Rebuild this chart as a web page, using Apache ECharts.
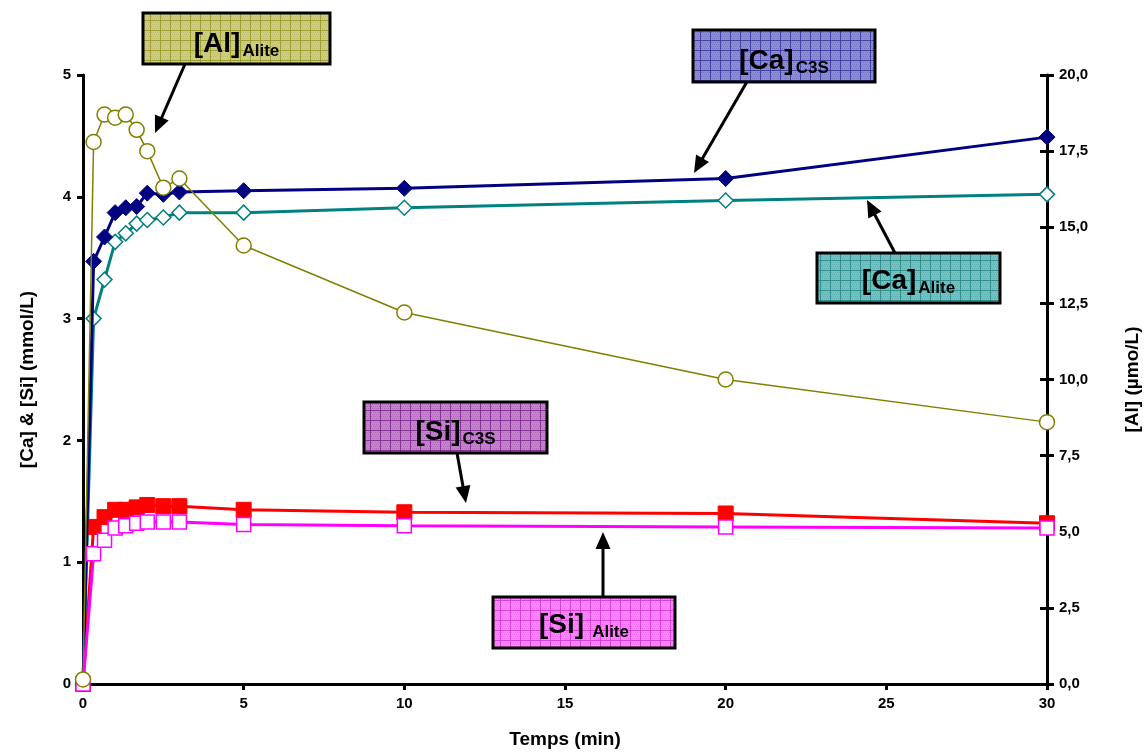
<!DOCTYPE html>
<html>
<head>
<meta charset="utf-8">
<script src="https://cdn.jsdelivr.net/npm/echarts@6/dist/echarts.min.js"></script>
<style>
html,body{margin:0;padding:0;background:#fff;}
#chart{width:1147px;height:753px;}
</style>
</head>
<body>
<div id="chart"></div>
<script>
// ---- data ----
const time = [0, 0.33, 0.67, 1, 1.33, 1.67, 2, 2.5, 3, 5, 10, 20, 30];
const caC3S = [0, 3.47, 3.67, 3.87, 3.91, 3.92, 4.03, 4.02, 4.04, 4.05, 4.07, 4.15, 4.49];
const caAlite = [0, 3.00, 3.32, 3.63, 3.70, 3.78, 3.81, 3.83, 3.87, 3.87, 3.91, 3.97, 4.02];
const alAlite = [0.15, 17.8, 18.7, 18.6, 18.7, 18.2, 17.5, 16.3, 16.6, 14.4, 12.2, 10.0, 8.6];
const siC3S = [0, 1.29, 1.37, 1.43, 1.43, 1.45, 1.47, 1.46, 1.46, 1.43, 1.41, 1.40, 1.32];
const siAlite = [0, 1.07, 1.18, 1.28, 1.30, 1.32, 1.33, 1.33, 1.33, 1.31, 1.30, 1.29, 1.28];

const xTitle = 'Temps (min)';
const yLeftTitle = '[Ca] & [Si] (mmol/L)';
const yRightTitle = '[Al] (µmo/L)';

// ---- annotation labels ----
const labelMain = ['[Al]', '[Ca]', '[Ca]', '[Si]', '[Si]'];
const labelSub = ['Alite', 'C3S', 'Alite', 'C3S', 'Alite'];

// ---- layout (pixels) ----
const boxLayout = [
  {x: 143, y: 13, w: 187, h: 51, base: '#cdcd86', grid: '#9a9a2a', my: 44, gap: 2},
  {x: 693, y: 30, w: 182, h: 52, base: '#8e8ed6', grid: '#3a3a9a', my: 61, gap: 2},
  {x: 817, y: 253, w: 183, h: 50, base: '#73c3c3', grid: '#2e8a8a', my: 281, gap: 2},
  {x: 364, y: 402, w: 183, h: 51, base: '#c584cc', grid: '#7e2c8e', my: 432, gap: 2},
  {x: 493, y: 597, w: 182, h: 51, base: '#ff85ff', grid: '#d23cd2', my: 625, gap: 8}
];
const arrowLayout = [
  [185, 64, 155, 133],
  [748, 80, 694, 173],
  [895, 253, 867, 200],
  [457, 453, 466, 503],
  [603, 597, 603, 532]
];
const MAIN_SIZE = 28, SUB_SIZE = 17, SUB_DROP = 7;

function makePattern(base, grid) {
  const c = document.createElement('canvas');
  c.width = 10; c.height = 10;
  const g = c.getContext('2d');
  g.fillStyle = base; g.fillRect(0, 0, 10, 10);
  g.fillStyle = grid;
  g.globalAlpha = 0.28;
  for (let y = 0; y < 10; y += 2) for (let x = (y / 2) % 2; x < 10; x += 2) g.fillRect(x, y, 1, 1);
  g.globalAlpha = 0.9;
  g.fillRect(0, 0, 10, 1); g.fillRect(0, 0, 1, 10);
  return c;
}

const FONT = '"Liberation Sans", Arial, sans-serif';
const measureCtx = document.createElement('canvas').getContext('2d');
function textWidth(t, size) {
  measureCtx.font = 'bold ' + size + 'px ' + FONT;
  return measureCtx.measureText(t).width;
}

const graphics = [];
labelMain.forEach((main, i) => {
  const b = boxLayout[i];
  const sub = labelSub[i];
  const wm = textWidth(main, MAIN_SIZE), ws = textWidth(sub, SUB_SIZE);
  const total = wm + b.gap + ws;
  const sx = b.x + b.w / 2 - total / 2;
  graphics.push({
    type: 'rect', z: 100,
    shape: {x: b.x, y: b.y, width: b.w, height: b.h},
    style: {fill: {image: makePattern(b.base, b.grid), repeat: 'repeat'}, stroke: '#000', lineWidth: 3}
  });
  graphics.push({
    type: 'text', z: 101, x: sx, y: b.my,
    style: {text: main, fill: '#000', fontSize: MAIN_SIZE, fontWeight: 'bold', fontFamily: FONT,
      align: 'left', verticalAlign: 'middle', textAlign: 'left', textVerticalAlign: 'middle'}
  });
  graphics.push({
    type: 'text', z: 101, x: sx + wm + b.gap, y: b.my + SUB_DROP,
    style: {text: sub, fill: '#000', fontSize: SUB_SIZE, fontWeight: 'bold', fontFamily: FONT,
      align: 'left', verticalAlign: 'middle', textAlign: 'left', textVerticalAlign: 'middle'}
  });
});
arrowLayout.forEach(a => {
  const [x1, y1, x2, y2] = a;
  const dx = x2 - x1, dy = y2 - y1, L = Math.hypot(dx, dy);
  const ux = dx / L, uy = dy / L, px = -uy, py = ux;
  const hl = 17, hw = 7.5;
  const bx = x2 - ux * hl, by = y2 - uy * hl;
  graphics.push({
    type: 'line', z: 99,
    shape: {x1: x1, y1: y1, x2: bx + ux * 2, y2: by + uy * 2},
    style: {stroke: '#000', lineWidth: 3}
  });
  graphics.push({
    type: 'polygon', z: 99,
    shape: {points: [[x2, y2], [bx + px * hw, by + py * hw], [bx - px * hw, by - py * hw]]},
    style: {fill: '#000'}
  });
});

function pairs(ys) { return time.map((t, i) => [t, ys[i]]); }

const axisLabelStyle = {color: '#000', fontSize: 15, fontWeight: 'bold', fontFamily: FONT};
const nameStyle = {color: '#000', fontSize: 19, fontWeight: 'bold', fontFamily: FONT};
const gridBox = {left: 83, right: 100, top: 75, bottom: 69, containLabel: false, outerBoundsMode: 'none'};

const chart = echarts.init(document.getElementById('chart'), null, {renderer: 'canvas'});
chart.setOption({
  backgroundColor: '#fff',
  animation: false,
  grid: [Object.assign({}, gridBox), Object.assign({}, gridBox)],
  xAxis: [
    {
      type: 'value', min: 0, max: 30, interval: 5, gridIndex: 0,
      name: xTitle, nameLocation: 'middle', nameGap: 46, nameTextStyle: nameStyle,
      axisLine: {show: true, onZero: false, lineStyle: {color: '#000', width: 3}},
      axisTick: {show: true, length: 6, lineStyle: {color: '#000', width: 3}},
      axisLabel: Object.assign({margin: 12}, axisLabelStyle),
      splitLine: {show: false}
    },
    {
      type: 'value', min: 0, max: 30, interval: 5, gridIndex: 1, show: false,
      axisLine: {onZero: false}
    }
  ],
  yAxis: [
    {
      type: 'value', min: 0, max: 5, interval: 1, position: 'left', gridIndex: 0,
      name: yLeftTitle, nameLocation: 'middle', nameGap: 46, nameRotate: 90, nameTextStyle: nameStyle,
      axisLine: {show: true, onZero: false, lineStyle: {color: '#000', width: 3}},
      axisTick: {show: true, length: 6, lineStyle: {color: '#000', width: 3}},
      axisLabel: Object.assign({margin: 12}, axisLabelStyle),
      splitLine: {show: false}
    },
    {
      type: 'value', min: 0, max: 20, interval: 2.5, position: 'right', gridIndex: 0,
      name: yRightTitle, nameLocation: 'middle', nameGap: 76, nameRotate: 90, nameTextStyle: nameStyle,
      axisLine: {show: true, onZero: false, lineStyle: {color: '#000', width: 3}},
      axisTick: {show: true, length: 7, lineStyle: {color: '#000', width: 3}},
      axisLabel: Object.assign({margin: 12, formatter: v => v.toFixed(1).replace('.', ',')}, axisLabelStyle),
      splitLine: {show: false}
    },
    {
      type: 'value', min: 0, max: 20, interval: 2.5, position: 'right', gridIndex: 1,
      axisLine: {show: false, onZero: false},
      axisTick: {show: true, inside: true, length: 7, lineStyle: {color: '#000', width: 3}},
      axisLabel: {show: false},
      splitLine: {show: false}
    }
  ],
  series: [
    {
      name: '[Ca] Alite', type: 'line', yAxisIndex: 0, data: pairs(caAlite),
      symbol: 'diamond', symbolSize: 15, showAllSymbol: true,
      lineStyle: {color: '#008080', width: 3},
      itemStyle: {color: '#fff', borderColor: '#008080', borderWidth: 1.5}, z: 2
    },
    {
      name: '[Ca] C3S', type: 'line', yAxisIndex: 0, data: pairs(caC3S),
      symbol: 'diamond', symbolSize: 16, showAllSymbol: true,
      lineStyle: {color: '#000080', width: 3},
      itemStyle: {color: '#000080', borderColor: '#000080', borderWidth: 1}, z: 3
    },
    {
      name: '[Si] C3S', type: 'line', yAxisIndex: 0, data: pairs(siC3S),
      symbol: 'rect', symbolSize: 15, showAllSymbol: true,
      lineStyle: {color: '#ff0000', width: 3},
      itemStyle: {color: '#ff0000', borderColor: '#ff0000', borderWidth: 1}, z: 2
    },
    {
      name: '[Si] Alite', type: 'line', yAxisIndex: 0, data: pairs(siAlite),
      symbol: 'rect', symbolSize: 14, showAllSymbol: true,
      lineStyle: {color: '#ff00ff', width: 3},
      itemStyle: {color: '#fff', borderColor: '#ff00ff', borderWidth: 1.5}, z: 3
    },
    {
      name: '[Al] Alite', type: 'line', yAxisIndex: 1, data: pairs(alAlite),
      symbol: 'circle', symbolSize: 15, showAllSymbol: true,
      lineStyle: {color: '#808000', width: 1.5},
      itemStyle: {color: '#fff', borderColor: '#808000', borderWidth: 1.5}, z: 4
    }
  ],
  graphic: {elements: graphics}
});
</script>
</body>
</html>
